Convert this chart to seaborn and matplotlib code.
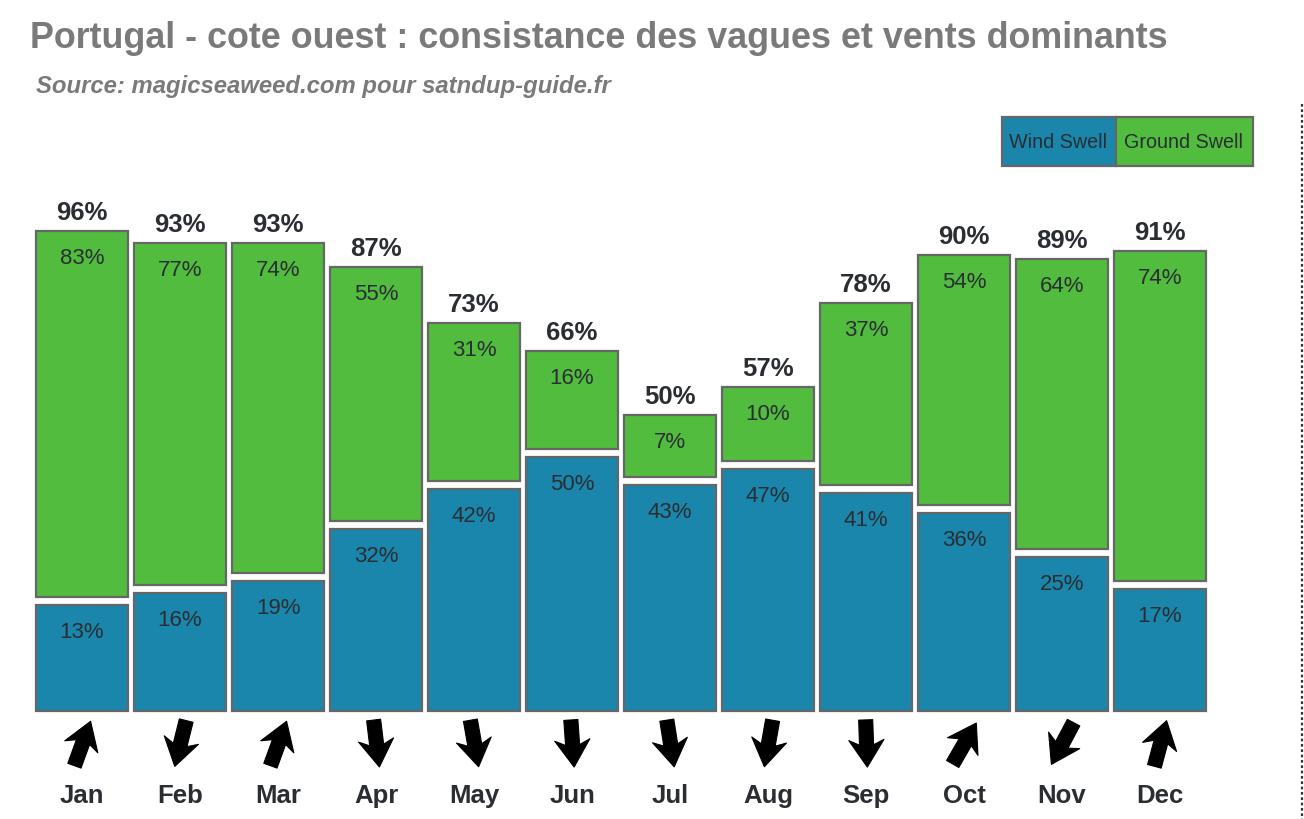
import numpy as np
import pandas as pd
import matplotlib
matplotlib.use("Agg")
import matplotlib.pyplot as plt
from matplotlib.markers import MarkerStyle
from matplotlib.patches import Rectangle
from matplotlib.path import Path
from matplotlib.transforms import Affine2D
import seaborn as sns

months = ["Jan", "Feb", "Mar", "Apr", "May", "Jun", "Jul", "Aug", "Sep", "Oct", "Nov", "Dec"]
wind_swell = [13, 16, 19, 32, 42, 50, 43, 47, 41, 36, 25, 17]
ground_swell = [83, 77, 74, 55, 31, 16, 7, 10, 37, 54, 64, 74]
total = [96, 93, 93, 87, 73, 66, 50, 57, 78, 90, 89, 91]
# direction the arrow points, degrees clockwise from north
wind_dir = [20, 194, 20, 173, 170, 176, 171, 190, 178, 30, 208, 15]

BLUE = "#1A86AB"
GREEN = "#52BC3E"
EDGE = "#666666"
DARK = "#2A2E33"
GREY = "#7A7A7A"

W, H = 1304, 820
BASE_PX = 712
PX_PER_UNIT = 4

# the original bars get a constant extra height so the labels always fit
WIND_PAD = 13.5
GROUND_PAD = 8.5
STACK_GAP = 2

sns.set_theme(style="white")
plt.rcParams["font.family"] = ["Liberation Sans", "DejaVu Sans"]

df = pd.DataFrame({"month": months, "wind": wind_swell, "ground": ground_swell, "total": total})
df["wind_h"] = df["wind"] + WIND_PAD
df["ground_h"] = df["ground"] + GROUND_PAD
df["ground_bottom"] = df["wind_h"] + STACK_GAP

fig = plt.figure(figsize=(W / 100, H / 100), dpi=100, facecolor="white")
ax = fig.add_axes([33 / W, 1 - BASE_PX / H, (1209 - 33) / W, (BASE_PX - 190) / H])

bar_style = dict(width=92 / 98, saturation=1, edgecolor=EDGE, linewidth=1.6, clip_on=False, ax=ax)
sns.barplot(data=df, x="month", y="wind_h", color=BLUE, **bar_style)
sns.barplot(data=df, x="month", y="ground_h", bottom=df["ground_bottom"], color=GREEN, **bar_style)

ax.set_xlim(-0.5, 11.5)
ax.set_ylim(0, (BASE_PX - 190) / PX_PER_UNIT)
ax.set_xlabel("")
ax.set_ylabel("")
ax.set_yticks([])
sns.despine(ax=ax, left=True, bottom=True)
ax.tick_params(axis="x", length=0, pad=51.5)
for lab in ax.get_xticklabels():
    lab.set_fontsize(18.5)
    lab.set_fontweight("bold")
    lab.set_color(DARK)

# value labels
for i, row in df.iterrows():
    ax.text(i, row["wind_h"] - 26.5 / PX_PER_UNIT, f"{row['wind']}%", ha="center", va="center",
            fontsize=16, color=DARK)
    top = row["ground_bottom"] + row["ground_h"]
    ax.text(i, top - 26.5 / PX_PER_UNIT, f"{row['ground']}%", ha="center", va="center",
            fontsize=16, color=DARK)
    ax.text(i, top + 19 / PX_PER_UNIT, f"{row['total']}%", ha="center", va="center",
            fontsize=18.5, fontweight="bold", color=DARK)

# wind arrows, a dart shape rotated per month
arrow = Path([(0, 23.5), (17.5, -3.5), (7, 1.5), (7, -23.5), (-7, -23.5), (-7, 1.5), (-17.5, -3.5), (0, 23.5)],
             closed=True)
for i, d in enumerate(wind_dir):
    m = MarkerStyle(arrow, transform=Affine2D().rotate_deg(-d))
    ax.plot([i], [-(744 - BASE_PX) / PX_PER_UNIT], marker=m, markersize=34, color="black",
            markeredgewidth=0.8, clip_on=False, linestyle="none")

# title block
fig.text(30 / W, 1 - 39 / H, "Portugal - cote ouest : consistance des vagues et vents dominants",
         fontsize=25.85, fontweight="bold", color=GREY, va="center", ha="left")
fig.text(36 / W, 1 - 86 / H, "Source: magicseaweed.com pour satndup-guide.fr",
         fontsize=17.2, fontweight="bold", fontstyle="italic", color=GREY, va="center", ha="left")

# legend cells
def legend_cell(x0, x1, color, label):
    fig.add_artist(Rectangle((x0 / W, 1 - 167 / H), (x1 - x0) / W, 49 / H, transform=fig.transFigure,
                             facecolor=color, edgecolor=EDGE, linewidth=1.6))
    fig.text((x0 + x1) / 2 / W - 1 / W, 1 - 142.5 / H, label, fontsize=14.2, color=DARK, ha="center", va="center")

legend_cell(1002, 1116, BLUE, "Wind Swell")
legend_cell(1116, 1253, GREEN, "Ground Swell")

# dotted rule at the right edge
fig.add_artist(plt.Line2D([1302 / W, 1302 / W], [1 - 105 / H, 0], transform=fig.transFigure,
                          color="#333333", linewidth=1.6, linestyle=(0, (1.2, 1.2))))

fig.savefig("out.png", dpi=100)
